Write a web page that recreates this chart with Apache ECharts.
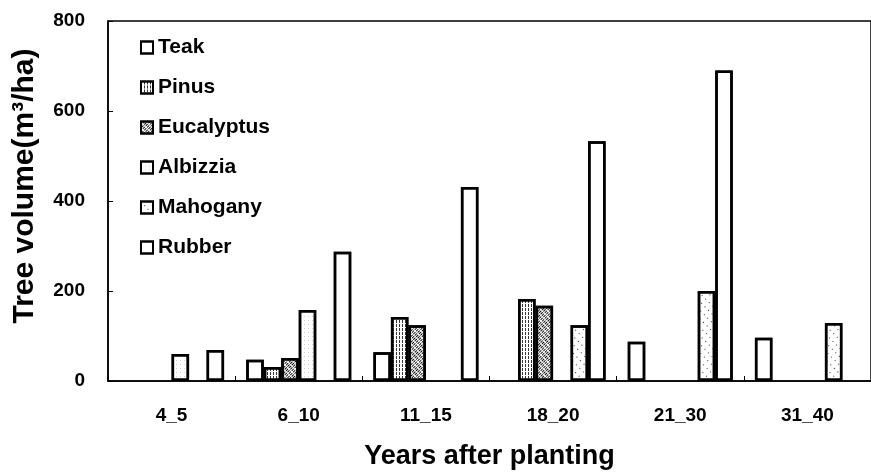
<!DOCTYPE html>
<html>
<head>
<meta charset="utf-8">
<script src="https://cdn.jsdelivr.net/npm/echarts@6/dist/echarts.min.js"></script>
<style>
  html, body { margin: 0; padding: 0; background: #fff; }
  #chart { width: 871px; height: 475px; }
</style>
</head>
<body>
<div id="chart"></div>
<script>
/* ---------------- Data ---------------- */
const categories = ["4_5", "6_10", "11_15", "18_20", "21_30", "31_40"];
const teak = [null, 47, 64, null, 87, 96];
const pinus = [null, 31, 142, 182, null, null];
const eucalyptus = [null, 51, 124, 167, null, null];
const albizzia = [60, 158, null, null, null, null];
const mahogany = [null, null, null, 124, 200, 129];
const rubber = [69, 287, 431, 533, 690, null];
const yTicks = [0, 200, 400, 600, 800];

const FONT = "Liberation Sans, Arial, sans-serif";

/* ---------------- Patterns ---------------- */
const noDecal = { symbol: "none" };
const decals = {
  Teak: noDecal,
  Pinus: { symbol: "rect", symbolSize: 1, color: "#333", dashArrayX: [1, 2], dashArrayY: [3, 1] },
  Eucalyptus: { symbol: "rect", symbolSize: 1, color: "#111", dashArrayX: [3, 1], dashArrayY: [1, 1] },
  Albizzia: { symbol: "circle", symbolSize: 0.6, color: "#333", dashArrayX: [1, 3], dashArrayY: [1, 3] },
  Mahogany: { symbol: "rect", symbolSize: 1, color: "#333", dashArrayX: [1, 4], dashArrayY: [1, 5] },
  Rubber: noDecal
};

const makeSeries = (name, data) => ({
  name,
  type: "bar",
  data,
  barWidth: 17.5,
  barGap: "0%",
  itemStyle: {
    color: "#fff",
    borderColor: "#000",
    borderWidth: 2.5,
    decal: decals[name]
  }
});

const chart = echarts.init(document.getElementById("chart"), null, { renderer: "canvas" });

chart.setOption({
  animation: false,
  backgroundColor: "#fff",
  aria: { enabled: true, decal: { show: true } },
  textStyle: { fontFamily: FONT },
  grid: {
    left: 108,
    right: -7,
    top: 21,
    bottom: 94,
    show: true,
    borderColor: "#000",
    borderWidth: 1.5
  },
  legend: {
    orient: "vertical",
    left: 135,
    top: 32,
    itemGap: 19,
    itemWidth: 12,
    itemHeight: 12,
    icon: "rect",
    textStyle: { fontFamily: FONT, fontWeight: "bold", fontSize: 21, color: "#000" },
    data: ["Teak", "Pinus", "Eucalyptus", "Albizzia", "Mahogany", "Rubber"]
  },
  xAxis: {
    type: "category",
    data: categories,
    name: "Years after planting",
    nameLocation: "middle",
    nameGap: 62,
    nameTextStyle: { fontFamily: FONT, fontWeight: "bold", fontSize: 27, color: "#000" },
    axisLine: { lineStyle: { color: "#000", width: 1.5 } },
    axisTick: { show: true, inside: true, length: 5, lineStyle: { color: "#000" } },
    axisLabel: { fontFamily: FONT, fontWeight: "bold", fontSize: 19, color: "#000", margin: 25 }
  },
  yAxis: {
    type: "value",
    min: yTicks[0],
    max: yTicks[yTicks.length - 1],
    interval: 200,
    name: "Tree volume(m\u00B3/ha)",
    nameLocation: "middle",
    nameGap: 68,
    nameTextStyle: { fontFamily: FONT, fontWeight: "bold", fontSize: 30, color: "#000", padding: [0, 0, 0, 30] },
    axisLine: { show: true, lineStyle: { color: "#000", width: 1.5 } },
    axisTick: { show: true, inside: true, length: 5, lineStyle: { color: "#000" } },
    splitLine: { show: false },
    axisLabel: { fontFamily: FONT, fontWeight: "bold", fontSize: 19, color: "#000", margin: 23 }
  },
  series: [
    makeSeries("Teak", teak),
    makeSeries("Pinus", pinus),
    makeSeries("Eucalyptus", eucalyptus),
    makeSeries("Albizzia", albizzia),
    makeSeries("Mahogany", mahogany),
    makeSeries("Rubber", rubber)
  ]
});
</script>
</body>
</html>
